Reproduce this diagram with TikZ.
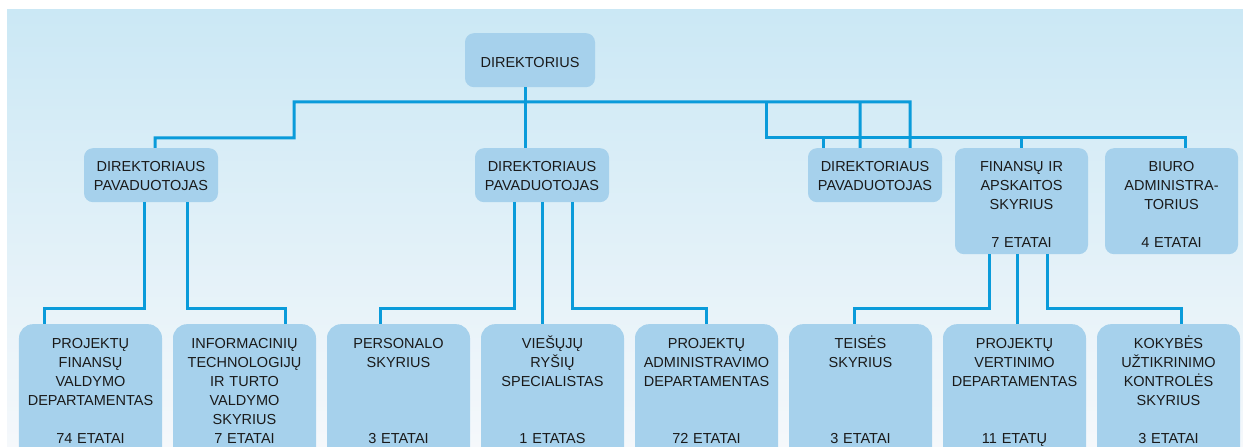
\documentclass[tikz,border=0pt]{standalone}
\usepackage{fontspec}
\setmainfont{Liberation Sans}
\definecolor{bgtop}{HTML}{CBE8F5}
\definecolor{bgbot}{HTML}{F5F8FB}
\definecolor{boxfill}{HTML}{A6D1EC}
\definecolor{linec}{HTML}{0A9BDA}
\definecolor{txt}{HTML}{1A1A1A}
\tikzset{
  box/.style={fill=boxfill, draw=none, rounded corners=9bp, align=center,
    inner sep=0pt, anchor=north, text=txt,
    font=\fontsize{14.5bp}{19bp}\selectfont},
  topbox/.style={box, text width=130bp, text height=34bp, text depth=20bp},
  depbox/.style={box, text width=134bp, text height=23bp, text depth=31bp},
  midbox/.style={box, text width=133bp, text height=23bp, text depth=83bp},
  lowbox/.style={box, rounded corners=14bp, text width=143bp, text height=24bp, text depth=126bp},
  conn/.style={draw=linec, line width=3bp}
}
\begin{document}
\begin{tikzpicture}[x=1bp,y=-1bp]
\useasboundingbox (0,0) rectangle (1243,447);
\clip (0,0) rectangle (1243,447);
\shade[top color=bgtop, bottom color=bgbot] (7,10) rectangle (1243,447);

% nodes
\node[topbox] (dir) at (530,33) {DIREKTORIUS};

\node[depbox] (d1) at (151,148) {DIREKTORIAUS\\PAVADUOTOJAS};
\node[depbox] (d2) at (542,148) {DIREKTORIAUS\\PAVADUOTOJAS};
\node[depbox] (d3) at (875,148) {DIREKTORIAUS\\PAVADUOTOJAS};
\node[midbox] (fin) at (1021.5,148) {FINANSŲ IR\\APSKAITOS\\SKYRIUS\\[19bp]7 ETATAI};
\node[midbox] (biu) at (1171.5,148) {BIURO\\ADMINISTRA-\\TORIUS\\[19bp]4 ETATAI};

\node[lowbox] (b1) at (90.5,324) {PROJEKTŲ\\FINANSŲ\\VALDYMO\\DEPARTAMENTAS\\[19bp]74 ETATAI};
\node[lowbox] (b2) at (244.5,324) {INFORMACINIŲ\\TECHNOLOGIJŲ\\IR TURTO\\VALDYMO\\SKYRIUS\\7 ETATAI};
\node[lowbox] (b3) at (398.5,324) {PERSONALO\\SKYRIUS\\[57bp]3 ETATAI};
\node[lowbox] (b4) at (552.5,324) {VIEŠŲJŲ\\RYŠIŲ\\SPECIALISTAS\\[38bp]1 ETATAS};
\node[lowbox] (b5) at (706.5,324) {PROJEKTŲ\\ADMINISTRAVIMO\\DEPARTAMENTAS\\[38bp]72 ETATAI};
\node[lowbox] (b6) at (860.5,324) {TEISĖS\\SKYRIUS\\[57bp]3 ETATAI};
\node[lowbox] (b7) at (1014.5,324) {PROJEKTŲ\\VERTINIMO\\DEPARTAMENTAS\\[38bp]11 ETATŲ};
\node[lowbox] (b8) at (1168.5,324) {KOKYBĖS\\UŽTIKRINIMO\\KONTROLĖS\\SKYRIUS\\[19bp]3 ETATAI};

% bus junctions
\coordinate (busA) at (294,102);
\coordinate (busB) at (910,102);
\coordinate (busC) at (860,102);
\coordinate (busD) at (766,102);

% director level
\draw[conn] ([xshift=-5bp]dir.south) -- ([xshift=-5bp]dir.south |- d2.north);
\draw[conn] ([xshift=4bp]d1.north) |- (294,138) -- (busA) -- (busB) -- ([xshift=35bp]d3.north);
\draw[conn] (busC) -- ([xshift=-15bp]d3.north);
\draw[conn] (busD) |- ([xshift=13.5bp]biu.north |- 0,138) -- ([xshift=13.5bp]biu.north);
\draw[conn] ([xshift=-52bp]d3.north) -- ++(0,-10);
\draw[conn] (fin.north) -- ++(0,-10);

% deputy 1
\draw[conn] ([xshift=-7bp]d1.south) -- ++(0,106) -| ([xshift=-45.5bp]b1.north);
\draw[conn] ([xshift=36bp]d1.south) -- ++(0,106) -| ([xshift=40.5bp]b2.north);
% deputy 2
\draw[conn] ([xshift=-28bp]d2.south) -- ++(0,106) -| ([xshift=-18.5bp]b3.north);
\draw[conn] (d2.south) -- (d2.south |- b4.north);
\draw[conn] ([xshift=30bp]d2.south) -- ++(0,106) -| (b5.north);
% finance
\draw[conn] ([xshift=-32.5bp]fin.south) -- ++(0,54) -| ([xshift=-6.5bp]b6.north);
\draw[conn] ([xshift=-4.5bp]fin.south) -- ([xshift=-4.5bp]fin.south |- b7.north);
\draw[conn] ([xshift=25.5bp]fin.south) -- ++(0,54) -| ([xshift=12.5bp]b8.north);
\end{tikzpicture}
\end{document}
